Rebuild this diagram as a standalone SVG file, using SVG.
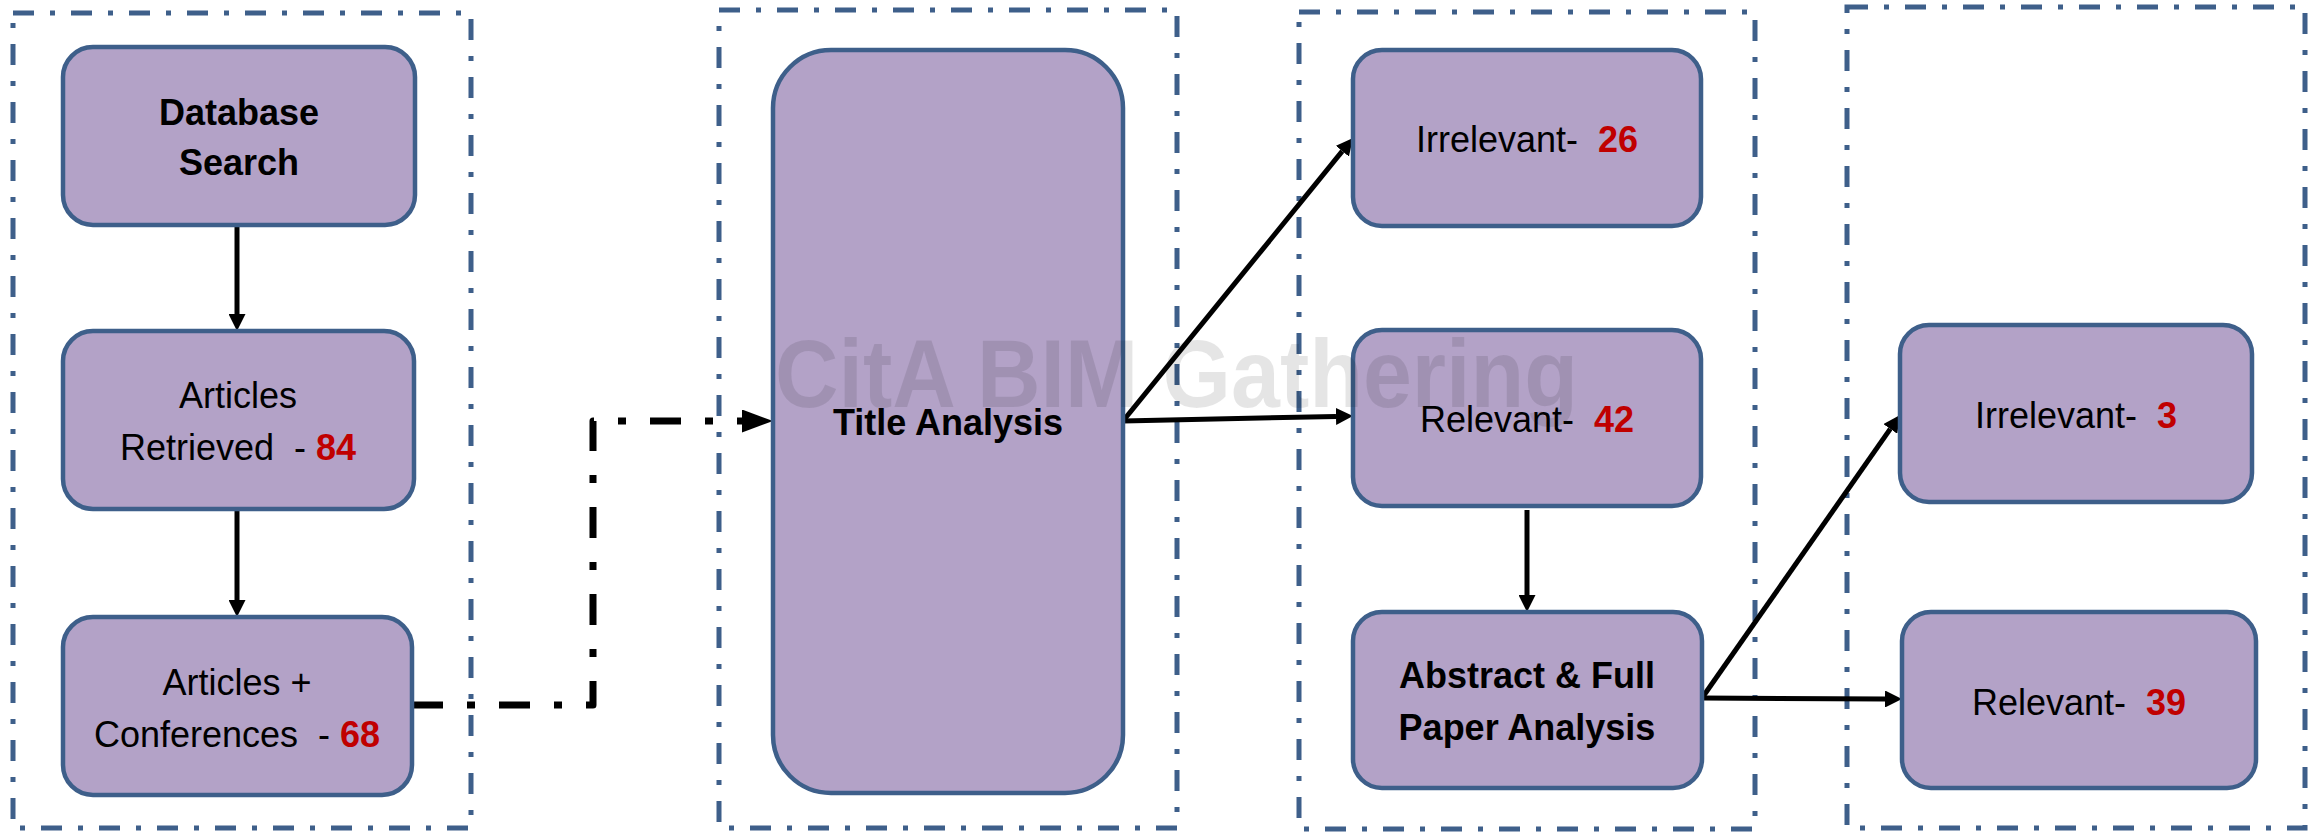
<svg xmlns="http://www.w3.org/2000/svg" width="2315" height="832" viewBox="0 0 2315 832">
<style>
.frame{fill:none;stroke:#3E5F8A;stroke-width:5;stroke-dasharray:21 16 5 16}
.box{fill:#B3A2C7;stroke:#3E5F8A;stroke-width:4.5}
.t{font-family:"Liberation Sans",Arial,sans-serif;font-size:36px;fill:#000;text-anchor:middle}
.b{font-weight:bold}
.n{font-weight:bold;fill:#C00000}
.conn{fill:none;stroke:#000;stroke-width:5}
.dash{fill:none;stroke:#000;stroke-width:7;stroke-dasharray:31 24 8 24;stroke-linejoin:round}
.wm{font-family:"Liberation Sans",Arial,sans-serif;font-size:97px;font-weight:bold;fill:#000;fill-opacity:0.1}
</style>
<defs>
<marker id="ah" markerUnits="userSpaceOnUse" markerWidth="17" markerHeight="17" viewBox="0 0 17 17" refX="0" refY="8.5" orient="auto"><path d="M0,0 L17,8.5 L0,17 z" fill="#000"/></marker>
<marker id="ahd" markerUnits="userSpaceOnUse" markerWidth="31" markerHeight="23" viewBox="0 0 31 23" refX="0" refY="11.5" orient="auto"><path d="M0,0 L31,11.5 L0,23 z" fill="#000"/></marker>
</defs>
<rect width="2315" height="832" fill="#fff"/>
<g id="frames">
<rect class="frame" x="13" y="13" width="458" height="815"/>
<rect class="frame" x="719" y="10" width="458" height="818"/>
<rect class="frame" x="1299" y="12" width="456" height="817"/>
<rect class="frame" x="1847" y="7" width="458" height="821"/>
</g>
<g id="connectors">
<path class="conn" d="M237,225 V314" marker-end="url(#ah)"/>
<path class="conn" d="M237,509 V600" marker-end="url(#ah)"/>
<path class="dash" d="M412,705 H593 V421 H742" marker-end="url(#ahd)"/>
<path class="conn" d="M1123,421 L1342.3,151.2" marker-end="url(#ah)"/>
<path class="conn" d="M1123,421 L1336,416.4" marker-end="url(#ah)"/>
<path class="conn" d="M1527,510 V595" marker-end="url(#ah)"/>
<path class="conn" d="M1702,698 L1890.3,428.9" marker-end="url(#ah)"/>
<path class="conn" d="M1702,698 L1885,699" marker-end="url(#ah)"/>
</g>
<g id="database-search">
<rect class="box" x="63" y="47" width="352" height="178" rx="30"/>
<text class="t b" x="239" y="125">Database</text>
<text class="t b" x="239" y="175">Search</text>
</g>
<g id="articles-retrieved">
<rect class="box" x="63" y="331" width="351" height="178" rx="30"/>
<text class="t" x="238" y="408">Articles</text>
<text class="t" x="238" y="460" xml:space="preserve">Retrieved  - <tspan class="n">84</tspan></text>
</g>
<g id="articles-conferences">
<rect class="box" x="63" y="617" width="349" height="178" rx="30"/>
<text class="t" x="237" y="695">Articles +</text>
<text class="t" x="237" y="747" xml:space="preserve">Conferences  - <tspan class="n">68</tspan></text>
</g>
<g id="title-analysis">
<rect class="box" x="773" y="50" width="350" height="743" rx="58"/>
<text class="t b" x="948" y="435">Title Analysis</text>
</g>
<g id="irrelevant-26">
<rect class="box" x="1353" y="50" width="348" height="176" rx="29"/>
<text class="t" x="1527" y="152" xml:space="preserve">Irrelevant-  <tspan class="n">26</tspan></text>
</g>
<g id="relevant-42">
<rect class="box" x="1353" y="330" width="348" height="176" rx="29"/>
<text class="t" x="1527" y="432" xml:space="preserve">Relevant-  <tspan class="n">42</tspan></text>
</g>
<g id="abstract-full">
<rect class="box" x="1353" y="612" width="349" height="176" rx="29"/>
<text class="t b" x="1527" y="688">Abstract &amp; Full</text>
<text class="t b" x="1527" y="740">Paper Analysis</text>
</g>
<g id="irrelevant-3">
<rect class="box" x="1900" y="325" width="352" height="177" rx="29"/>
<text class="t" x="2076" y="428" xml:space="preserve">Irrelevant-  <tspan class="n">3</tspan></text>
</g>
<g id="relevant-39">
<rect class="box" x="1902" y="612" width="354" height="176" rx="29"/>
<text class="t" x="2079" y="715" xml:space="preserve">Relevant-  <tspan class="n">39</tspan></text>
</g>
<g id="watermark">
<text class="wm" x="775" y="407" textLength="803" lengthAdjust="spacingAndGlyphs">CitA BIM Gathering</text>
</g>
</svg>
